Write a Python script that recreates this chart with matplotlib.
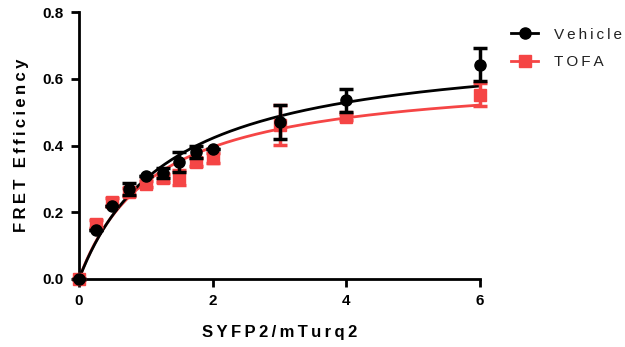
import matplotlib
matplotlib.use("Agg")
import matplotlib.pyplot as plt
import numpy as np

plt.rcParams['font.family'] = ['Liberation Sans', 'DejaVu Sans']

# data
ratio = [0, 0.25, 0.5, 0.75, 1.0, 1.25, 1.5, 1.75, 2.0, 3, 4, 6]
vehicle = [0, 0.147, 0.219, 0.27, 0.31, 0.318, 0.35, 0.382, 0.39, 0.47, 0.535, 0.642]
vehicle_err = [0, 0, 0, 0.018, 0, 0.015, 0.03, 0.018, 0, 0.05, 0.035, 0.05]
tofa = [0, 0.165, 0.232, 0.262, 0.285, 0.302, 0.305, 0.35, 0.362, 0.462, 0.485, 0.552]
tofa_err = [0, 0.012, 0.012, 0.012, 0.01, 0.012, 0.022, 0.012, 0.015, 0.06, 0.008, 0.035]

# hyperbolic fit parameters (Bmax, Kd)
vehicle_fit = (0.71, 1.366)
tofa_fit = (0.62, 1.137)

def spaced(s):
    return "\u2009".join(s)

fig = plt.figure(figsize=(6.25, 3.47), dpi=100)
ax = fig.add_axes([79/625, 1-279/347, (480-79)/625, (279-12)/347])

red = '#F54545'
xs = np.linspace(0, 6, 300)
bmax, kd = tofa_fit
ax.plot(xs, bmax*xs/(kd+xs), color=red, lw=2, zorder=2)
bmax, kd = vehicle_fit
ax.plot(xs, bmax*xs/(kd+xs), color='black', lw=2, zorder=3)

ax.errorbar(ratio, tofa, yerr=tofa_err, fmt='s', color=red, ms=8,
            ecolor=red, elinewidth=2.5, capsize=5, capthick=2.5, zorder=4, clip_on=False)
ax.errorbar(ratio, vehicle, yerr=vehicle_err, fmt='o', color='black', ms=8,
            ecolor='black', elinewidth=2.5, capsize=5, capthick=2.5, zorder=5, clip_on=False)

ax.set_xlim(0, 6)
ax.set_ylim(0, 0.8)
ax.set_xticks([0, 2, 4, 6])
ax.set_yticks([0, 0.2, 0.4, 0.6, 0.8])
ax.set_yticklabels(['0.0', '0.2', '0.4', '0.6', '0.8'])
for s in ['top', 'right']:
    ax.spines[s].set_visible(False)
for s in ['left', 'bottom']:
    ax.spines[s].set_linewidth(2)
ax.tick_params(width=2, length=6, labelsize=11, pad=5)
for lab in ax.get_xticklabels() + ax.get_yticklabels():
    lab.set_fontweight('bold')

ax.set_xlabel(spaced("SYFP2/mTurq2"), fontsize=12, fontweight='bold', labelpad=12)
ax.set_ylabel(spaced("FRET Efficiency"), fontsize=12, fontweight='bold', labelpad=10)

h1 = plt.Line2D([], [], color='black', lw=2, marker='o', ms=8)
h2 = plt.Line2D([], [], color=red, lw=2, marker='s', ms=8)
leg = fig.legend([h1, h2], [spaced("Vehicle"), spaced("TOFA")], loc='upper left',
                 bbox_to_anchor=(497/625, 1-14/347), frameon=False, fontsize=11,
                 handlelength=1.8, labelspacing=0.9, handletextpad=1.0,
                 borderpad=0.4, borderaxespad=0.5)
for t in leg.get_texts():
    t.set_color('#222222')

fig.savefig("out.png", dpi=100)
